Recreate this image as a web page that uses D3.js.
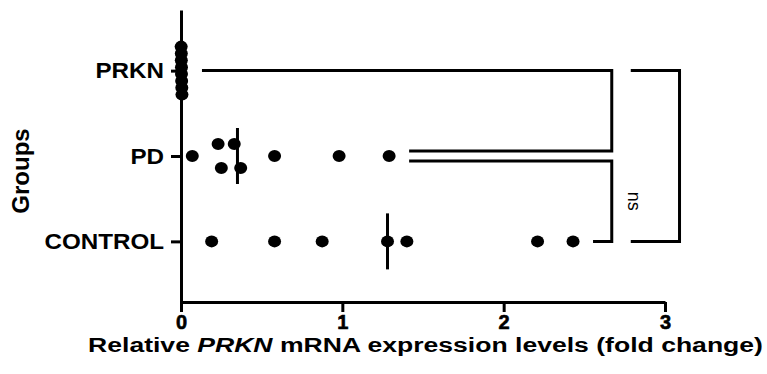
<!DOCTYPE html>
<html>
<head>
<meta charset="utf-8">
<script src="https://cdn.jsdelivr.net/npm/d3@7"></script>
<style>
  body { margin: 0; background: #fff; }
  svg { display: block; font-family: "Liberation Sans", Arial, sans-serif; }
  .x-axis .tick text { font-weight: bold; font-size: 20px; stroke: #000; stroke-width: 0.6px; }
</style>
</head>
<body>
<svg id="chart" width="767" height="374"></svg>
<script>
// groups, top to bottom
const groups = ["PRKN", "PD", "CONTROL"];

// relative PRKN mRNA expression (fold change)
const prknValues = [0.001, 0.002, 0.002, 0.003, 0.003, 0.004, 0.005, 0.006];
const pdValues = [0.07, 0.23, 0.25, 0.33, 0.37, 0.58, 0.98, 1.29];
const controlValues = [0.19, 0.58, 0.875, 1.28, 1.40, 2.21, 2.43];

const xTicks = [0, 1, 2, 3];

// significance brackets: pair, x of the vertical bar, label
const pairs = [["PRKN", "PD"], ["PD", "CONTROL"], ["PRKN", "CONTROL"]];
const bracketRight = [2.67, 2.67, 3.09];
const bracketLabels = ["", "ns", ""];

const width = 767, height = 374;
const margin = {top: 10, right: 102, bottom: 72, left: 181};
const font = "Liberation Sans, Arial, sans-serif";

const svg = d3.select("#chart");

const x = d3.scaleLinear()
    .domain([0, 3])
    .range([margin.left, width - margin.right]);

const y = d3.scalePoint()
    .domain(groups)
    .range([margin.top, height - margin.bottom])
    .padding(0.71);

const valuesFor = {PRKN: prknValues, PD: pdValues, CONTROL: controlValues};

// stack dots that would overlap, like a scatter dot plot
const rx = 6.5, ry = 6;
function layout(g) {
    const vals = valuesFor[g].slice().sort((a, b) => a - b);
    const clusters = [];
    vals.forEach(v => {
        const last = clusters[clusters.length - 1];
        if (last && x(v) - x(last[last.length - 1]) < 2 * rx - 1) last.push(v);
        else clusters.push([v]);
    });
    const pts = [];
    clusters.forEach(c => {
        const k = c.length;
        const step = k > 1 ? Math.min(24, 48 / (k - 1)) : 0;
        c.forEach((v, i) => pts.push({g, v, dy: (i - (k - 1) / 2) * step}));
    });
    return pts;
}
const points = groups.flatMap(layout);

// axes
const xAxis = g => g
    .attr("class", "x-axis")
    .attr("transform", `translate(0,${height - margin.bottom})`)
    .attr("font-family", font)
    .call(d3.axisBottom(x).tickValues(xTicks).tickFormat(d3.format("d"))
        .tickSize(10).tickSizeOuter(0).tickPadding(3))
    .call(g => g.select(".domain").attr("stroke-width", 3))
    .call(g => g.selectAll(".tick line").attr("stroke-width", 3))
    .call(g => g.selectAll(".tick text").attr("fill", "#000"));

const yAxis = g => g
    .attr("transform", `translate(${margin.left},0)`)
    .call(d3.axisLeft(y).tickSize(10).tickSizeOuter(0).tickPadding(3))
    .call(g => g.select(".domain").attr("stroke-width", 3))
    .call(g => g.selectAll(".tick line").attr("stroke-width", 3))
    .call(g => g.selectAll(".tick text")
        .attr("x", null)
        .attr("transform", "translate(-17,0) scale(1.1,1)")
        .attr("fill", "#000")
        .style("font-size", "22px").style("font-weight", "bold")
        .style("font-family", font));

svg.append("g").call(xAxis);
svg.append("g").call(yAxis);

// dots
svg.append("g")
    .selectAll("ellipse")
    .data(points)
    .enter().append("ellipse")
        .attr("cx", d => x(d.v))
        .attr("cy", d => y(d.g) + d.dy)
        .attr("rx", rx)
        .attr("ry", ry)
        .attr("fill", "#000");

// median lines
svg.append("g")
    .attr("stroke", "#000")
    .attr("stroke-width", 3)
    .selectAll("line")
    .data(groups)
    .enter().append("line")
        .attr("x1", g => x(d3.median(valuesFor[g])))
        .attr("x2", g => x(d3.median(valuesFor[g])))
        .attr("y1", g => y(g) - 28)
        .attr("y2", g => y(g) + 28);

// brackets
const ends = pairs.map((p, i) => {
    const y1 = y(p[0]) + (i === 1 ? 5 : 0);
    const y2 = y(p[1]) - (i === 0 ? 5 : 0);
    const xr = x(bracketRight[i]);
    const xa = i === 2 ? x(bracketRight[0]) + 19 : x(d3.max(valuesFor[p[0]])) + 20;
    const xb = i === 2 ? x(bracketRight[0]) + 19 : x(d3.max(valuesFor[p[1]])) + 20;
    return {y1, y2, xr, xa, xb, label: bracketLabels[i]};
});

svg.append("g")
    .attr("fill", "none")
    .attr("stroke", "#000")
    .attr("stroke-width", 3)
    .selectAll("path")
    .data(ends)
    .enter().append("path")
        .attr("d", d => `M${d.xa},${d.y1}H${d.xr}V${d.y2}H${d.xb}`);

svg.append("g")
    .selectAll("text")
    .data(ends.filter(d => d.label))
    .enter().append("text")
        .attr("transform", d => `translate(${d.xr + 16},${(d.y1 + d.y2) / 2}) rotate(90)`)
        .attr("text-anchor", "middle")
        .attr("font-size", 18)
        .text(d => d.label);

// axis titles
svg.append("text")
    .attr("transform", "translate(29,171) rotate(-90)")
    .attr("text-anchor", "middle")
    .attr("font-size", 24)
    .attr("font-weight", "bold")
    .text("Groups");

const title = svg.append("text")
    .attr("text-anchor", "middle")
    .attr("font-size", 21)
    .attr("font-weight", "bold");
title.append("tspan").text("Relative ");
title.append("tspan").attr("font-style", "italic").text("PRKN");
title.append("tspan").text(" mRNA expression levels (fold change)");
// stretch the title across the width it takes in the figure
const tw = title.node().getBBox().width;
title.attr("transform", `translate(425.5,352) scale(${675 / tw},1)`);
</script>
</body>
</html>
